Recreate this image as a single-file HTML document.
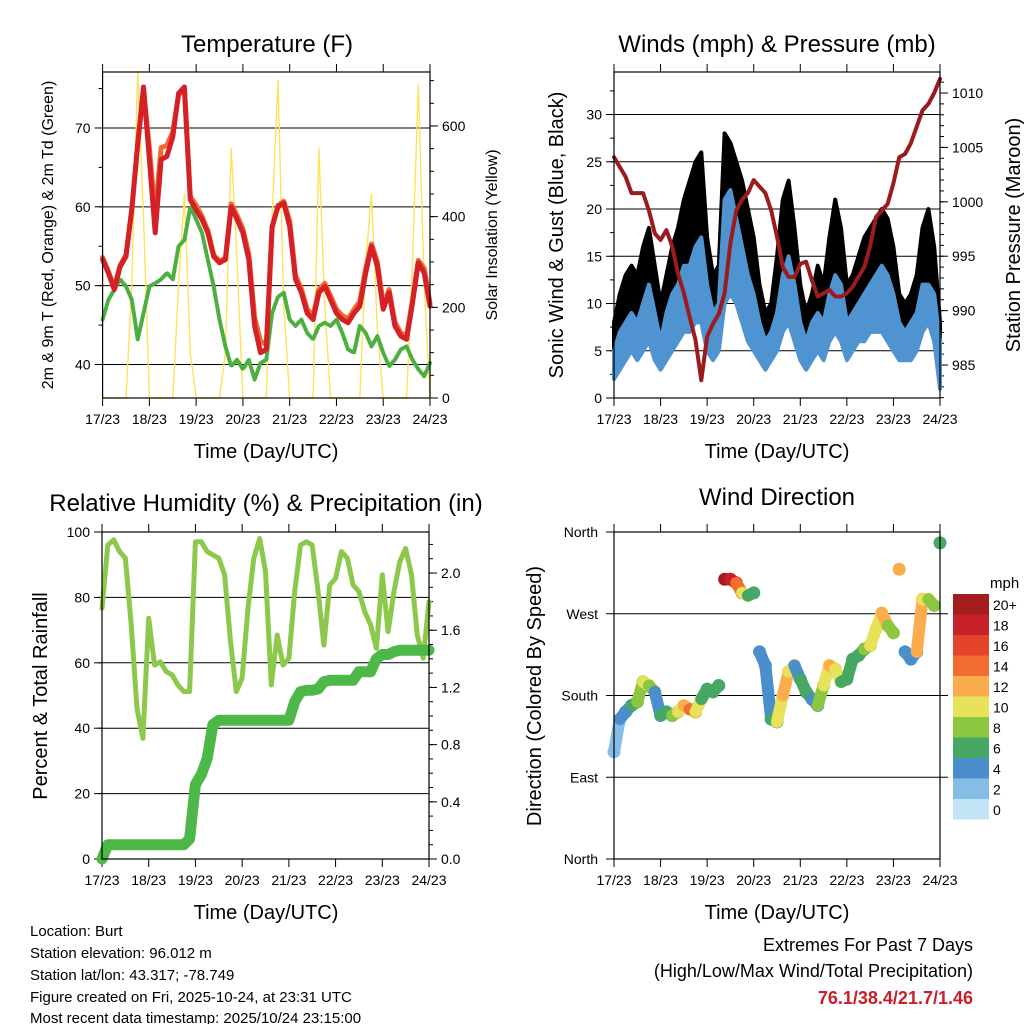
<!DOCTYPE html>
<html><head><meta charset="utf-8"><style>
body{margin:0;background:#fff;}
svg{display:block;font-family:"Liberation Sans",Arial,sans-serif;}
</style></head><body>
<svg id="chart" width="1024" height="1024" viewBox="0 0 1024 1024" xmlns="http://www.w3.org/2000/svg">
<rect width="1024" height="1024" fill="#fff"/>
<text x="267" y="52" font-size="24" text-anchor="middle">Temperature (F)</text>
<text x="777" y="52" font-size="24" text-anchor="middle">Winds (mph) &amp; Pressure (mb)</text>
<text x="266" y="511" font-size="24" text-anchor="middle">Relative Humidity (%) &amp; Precipitation (in)</text>
<text x="777" y="505" font-size="24" text-anchor="middle">Wind Direction</text>
<text x="266" y="458" font-size="20" text-anchor="middle">Time (Day/UTC)</text>
<text x="777" y="458" font-size="20" text-anchor="middle">Time (Day/UTC)</text>
<text x="266" y="919" font-size="20" text-anchor="middle">Time (Day/UTC)</text>
<text x="777" y="919" font-size="20" text-anchor="middle">Time (Day/UTC)</text>
<text transform="translate(53,235) rotate(-90)" font-size="16" text-anchor="middle">2m &amp; 9m T (Red, Orange) &amp; 2m Td (Green)</text>
<text transform="translate(497,235) rotate(-90)" font-size="16" text-anchor="middle">Solar Insolation (Yellow)</text>
<text transform="translate(563,235) rotate(-90)" font-size="20" text-anchor="middle">Sonic Wind &amp; Gust (Blue, Black)</text>
<text transform="translate(1020,235) rotate(-90)" font-size="20" text-anchor="middle">Station Pressure (Maroon)</text>
<text transform="translate(47,696) rotate(-90)" font-size="20" text-anchor="middle">Percent &amp; Total Rainfall</text>
<text transform="translate(541,696) rotate(-90)" font-size="20" text-anchor="middle">Direction (Colored By Speed)</text>
<g font-size="15">
<text x="30" y="936">Location: Burt</text>
<text x="30" y="958">Station elevation: 96.012 m</text>
<text x="30" y="980">Station lat/lon: 43.317; -78.749</text>
<text x="30" y="1002">Figure created on Fri, 2025-10-24, at 23:31 UTC</text>
<text x="30" y="1023">Most recent data timestamp: 2025/10/24 23:15:00</text>
</g>
<g font-size="18" text-anchor="end">
<text x="973" y="951">Extremes For Past 7 Days</text>
<text x="973" y="977">(High/Low/Max Wind/Total Precipitation)</text>
<text x="973" y="1004" fill="#c8202a" font-weight="bold">76.1/38.4/21.7/1.46</text>
</g>
<text x="990" y="588" font-size="15">mph</text>
</svg>
<script>
const hours=[0,3,6,9,12,15,18,21,24,27,30,33,36,39,42,45,48,51,54,57,60,63,66,69,72,75,78,81,84,87,90,93,96,99,102,105,108,111,114,117,120,123,126,129,132,135,138,141,144,147,150,153,156,159,162,165,168];
const dayLabels=["17/23","18/23","19/23","20/23","21/23","22/23","23/23","24/23"];
const temp2m=[53.3,51.6,49.5,52.4,53.7,59.6,68,75.2,66,56.7,66,66.4,68.9,74.4,75.2,60.9,59.6,58.4,56.7,53.7,52.9,53.3,60,58.4,56.7,53.3,44.9,41.5,41.9,57.5,60,60.5,57.5,50.8,49.1,46.5,45.7,49.1,49.9,48.2,46.5,45.7,45.3,46.5,47.4,51.6,55,52.4,47,49.1,44.9,43.6,43.2,47.8,52.9,51.6,47.4];
const temp9m=[53.6,51.8,49.8,52.6,53.9,59.8,67.8,74.8,67.5,59,67.5,67.8,69.5,74.2,75,61.3,60.2,58.8,57,53.9,53.1,53.5,60.4,58.9,57.2,54,46,43,42.5,57.3,60.2,60.7,58.2,51.3,49.6,47,46.2,49.5,50.3,48.7,47,46.2,45.8,47,48,52.2,55.3,53,47.6,49.5,45.4,44,43.6,48.2,53.2,52.2,47.8];
const dewpoint=[45.7,48.2,49.5,50.8,49.9,48.2,43.2,46.5,49.9,50.3,50.8,51.6,50.8,55,55.8,60,58.4,56.7,53.3,49.9,45.7,42.3,39.8,40.6,39.4,40.6,38.1,40.2,40.6,46.5,48.6,49.1,45.7,44.9,45.7,44,43.2,44.9,45.3,44.9,45.7,44,41.9,41.5,44.9,44,42.3,43.6,41.5,39.8,40.6,41.9,42.3,40.6,39.4,38.5,40.2];
const solar=[0,0,0,0,0,250,720,400,0,0,0,0,0,250,450,100,0,0,0,0,0,100,550,300,0,0,0,0,0,400,700,200,0,0,0,0,0,550,200,0,0,0,0,0,0,300,450,150,0,0,0,0,0,300,690,250,0];
const windLo=[2,3,4,5,4,5,6,4,3,4,5,6,7,7,8,8,5,4,5,10,11,10,8,6,5,4,3,4,5,7,8,6,4,3,4,5,4,6,7,6,4,5,6,6,7,7,7,6,5,4,4,4,5,7,8,6,1];
const windHi=[5,7,8,9,8,10,12,9,6,9,11,12,14,14,16,17,12,9,10,21,22,19,16,13,11,8,6,7,9,13,15,12,8,6,8,9,8,11,13,12,8,9,10,11,12,13,14,13,11,8,7,8,9,12,12,11,6];
const gustLo=[3,5,7,8,7,9,10,8,5,8,10,11,12,13,14,13,8,7,8,16,18,17,14,11,9,6,5,5,8,13,14,11,6,4,6,8,7,10,12,10,6,7,9,10,11,12,11,10,8,6,5,6,8,11,13,10,2];
const gustHi=[8,11,13,14,13,16,18,14,10,13,16,18,21,23,25,26,17,13,14,28,27,25,23,20,17,12,9,10,15,21,23,18,12,9,11,14,12,17,21,18,12,13,15,17,18,19,20,19,16,11,10,11,13,18,20,16,8];
const pressure=[1004.1,1003.2,1002.3,1000.8,1000.8,1000.8,999.2,997.1,996.5,997.4,995.9,993.4,991.6,989.4,987.3,983.6,987.6,988.8,989.7,991.6,996.2,999.2,1000.2,1000.8,1002,1001.4,1000.8,999.2,996.8,994,993.1,993.1,994.3,994.5,992.8,991.3,991.6,991.9,991.3,991.3,991.6,992.2,993.1,994,995.9,998.6,999.2,999.8,1001.7,1004.1,1004.4,1005.4,1006.9,1008.4,1009,1010,1011.3];
const humidity=[76.7,96,97.6,94,92,71.6,46,36.9,73.6,59.3,60.3,57.3,56.3,53.2,51.2,51.2,97,97,94,93,92,86.9,66.5,51.2,55.3,76.7,92,98,87.9,53.2,68.5,59.3,61.4,81.8,96,97,96,81.8,65.4,83.8,85.8,94,92,83.8,81.8,75.6,71.6,64.4,86.9,69.5,81.8,90.9,95,86.9,68.5,61.4,78.7];
const rainfall=[0,0.1,0.1,0.1,0.1,0.1,0.1,0.1,0.1,0.1,0.1,0.1,0.1,0.1,0.1,0.14,0.52,0.59,0.7,0.94,0.97,0.97,0.97,0.97,0.97,0.97,0.97,0.97,0.97,0.97,0.97,0.97,0.97,1.1,1.17,1.18,1.18,1.19,1.24,1.25,1.25,1.25,1.25,1.25,1.31,1.31,1.31,1.4,1.43,1.43,1.45,1.46,1.46,1.46,1.46,1.46,1.46];
const direction=[118,154,162,169,173,195,191,184,158,162,158,162,169,165,162,176,187,184,191,308,308,304,293,290,293,228,213,154,151,180,206,213,198,184,176,169,191,213,209,195,198,220,224,231,235,253,271,257,249,319,228,220,228,286,286,279,348];
const dirSpeed=[2,3,4,5,6,9,10,8,5,6,7,8,10,13,14,11,7,7,6,19,21,18,14,10,7,4,4,4,6,11,13,11,5,6,7,5,9,11,13,10,7,6,7,6,8,11,10,12,8,13,4,4,5,12,11,9,6];
const speedBins=["0","2","4","6","8","10","12","14","16","18","20+"];
const binColors=["#c2e4f6","#86bde6","#4a8fcb","#47a764","#8dc641","#e8e25a","#fbad4e","#f26b30","#e5432b","#c8202a","#a51c1e"];

const NS="http://www.w3.org/2000/svg";
const svg=document.getElementById('chart');
function mk(tag,attrs,parent){const e=document.createElementNS(NS,tag);for(const k in attrs)e.setAttribute(k,attrs[k]);(parent||svg).appendChild(e);return e;}
function X(P,h){return P.x0+h/168*(P.x1-P.x0);}
function Y(P,v,lo,hi){return P.y1-(v-lo)/(hi-lo)*(P.y1-P.y0);}
function pts(P,vals,lo,hi){return vals.map((v,i)=>X(P,hours[i]).toFixed(1)+","+Y(P,v,lo,hi).toFixed(1)).join(" ");}

const PT={x0:102.6,x1:430,y0:72,y1:398};
const PW={x0:614,x1:940,y0:72,y1:398};
const PR={x0:102,x1:429,y0:532,y1:859};
const PD={x0:614,x1:940,y0:532,y1:859};

function frame(P,name){
  const g=mk('g',{});
  
  
  for(let d=0;d<8;d++){
    const x=X(P,d*24);
    const t1=mk('line',{x1:x,x2:x,y1:P.y1,y2:P.y1+8,stroke:'#000','stroke-width':1},g);
    
    
    const t2=mk('line',{x1:x,x2:x,y1:P.y0,y2:P.y0-8,stroke:'#000','stroke-width':1},g);
    
    
    const lb=mk('text',{x:x,y:P.y1+26,'font-size':14,'text-anchor':'middle'},g);
    
    
    lb.textContent=dayLabels[d];
  }
  return g;
}
function yAxis(P,side,lo,hi,major,minor,labels,grid,name,fmt){
  const g=mk('g',{});
  
  
  const x=side==='l'?P.x0:P.x1, dir=side==='l'?-1:1;
  for(let v=Math.ceil(lo/minor)*minor;v<=hi+1e-9;v+=minor){
    const y=Y(P,v,lo,hi);
    const t=mk('line',{x1:x,x2:x+dir*4,y1:y,y2:y,stroke:'#000','stroke-width':1},g);
    
    
  }
  labels.forEach(v=>{
    const y=Y(P,v,lo,hi);
    if(grid){
      const gl=mk('line',{x1:P.x0,x2:P.x1,y1:y,y2:y,stroke:'#000','stroke-width':1},g);
      
      
    }
    const t=mk('line',{x1:x,x2:x+dir*8,y1:y,y2:y,stroke:'#000','stroke-width':1},g);
    
    
    const lb=mk('text',{x:x+dir*12,y:y+5,'font-size':14,'text-anchor':side==='l'?'end':'start'},g);
    
    
    lb.textContent=fmt?fmt(v):v;
  });
}
function box(P,name){
  const r=mk('rect',{x:P.x0,y:P.y0,width:P.x1-P.x0,height:P.y1-P.y0,fill:'none',stroke:'#000','stroke-width':1.2});
  
  
}
function line(P,vals,lo,hi,attrs,name){
  const a=Object.assign({points:pts(P,vals,lo,hi),fill:'none','stroke-linejoin':'round','stroke-linecap':'round'},attrs);
  const l=mk('polyline',a);
  
  
}
function band(P,loA,hiA,lo,hi,color,name){
  const up=hiA.map((v,i)=>X(P,hours[i]).toFixed(1)+","+Y(P,v,lo,hi).toFixed(1));
  const dn=loA.map((v,i)=>X(P,hours[i]).toFixed(1)+","+Y(P,v,lo,hi).toFixed(1)).reverse();
  const p=mk('polygon',{points:up.concat(dn).join(" "),fill:color,stroke:color,'stroke-width':4,'stroke-linejoin':'round'});
  
  
}

/* Temperature */
const TLO=35.75,THI=77.1,SLO=0,SHI=719;
yAxis(PT,'l',TLO,THI,10,5,[40,50,60,70],true,'temp-left-axis');
yAxis(PT,'r',SLO,SHI,200,50,[0,200,400,600],false,'solar-right-axis');
frame(PT,'temp');
line(PT,solar,SLO,SHI,{stroke:'#fde25a','stroke-width':1.4},'solar-line');
line(PT,dewpoint,TLO,THI,{stroke:'#4caf3f','stroke-width':4,'stroke-dasharray':'3 2'},'dewpoint-line');
line(PT,temp9m,TLO,THI,{stroke:'#f26b2f','stroke-width':5},'temp-9m-line');
line(PT,temp2m,TLO,THI,{stroke:'#d42027','stroke-width':5},'temp-2m-line');
box(PT,'temp');

/* Winds */
const WLO=0,WHI=34.5,PLO=981.97,PHI=1011.93;
yAxis(PW,'l',WLO,WHI,5,2.5,[0,5,10,15,20,25,30],true,'wind-left-axis');
yAxis(PW,'r',PLO,PHI,5,1,[985,990,995,1000,1005,1010],false,'pressure-right-axis');
frame(PW,'winds');
band(PW,gustLo,gustHi,WLO,WHI,'#000','gust-band');
band(PW,windLo,windHi,WLO,WHI,'#4f94d0','wind-band');
line(PW,pressure,PLO,PHI,{stroke:'#9b1b1e','stroke-width':4},'pressure-line');
box(PW,'winds');

/* Humidity */
const RLO=0,RHI=100,PRLO=0,PRHI=2.287;
yAxis(PR,'l',RLO,RHI,20,20,[0,20,40,60,80,100],true,'humidity-left-axis');
yAxis(PR,'r',PRLO,PRHI,0.4,0.1,[0,0.4,0.8,1.2,1.6,2.0],false,'rain-right-axis',v=>v.toFixed(1));
frame(PR,'humidity');
line(PR,humidity,RLO,RHI,{stroke:'#8cc84b','stroke-width':5},'humidity-line');
line(PR,rainfall,PRLO,PRHI,{stroke:'#4db848','stroke-width':11},'rainfall-line');
box(PR,'humidity');

/* Wind direction */
const DLO=0,DHI=360;
const dirNames=["North","East","South","West","North"];
const gd=mk('g',{});


[0,90,180,270,360].forEach((v,i)=>{
  const y=Y(PD,v,DLO,DHI);
  if(i>0&&i<4){const gl=mk('line',{x1:PD.x0,x2:PD.x1+8,y1:y,y2:y,stroke:'#000','stroke-width':1},gd);
    
    }
  const t=mk('line',{x1:PD.x0,x2:PD.x0-8,y1:y,y2:y,stroke:'#000'},gd);
  
  
  const lb=mk('text',{x:PD.x0-16,y:y+5,'font-size':14,'text-anchor':'end'},gd);
  
  
  lb.textContent=dirNames[i];
});
frame(PD,'direction');
function binOf(v){return Math.min(10,Math.floor(v/2));}
for(let i=0;i<hours.length;i++){
  const c=binColors[binOf(dirSpeed[i])];
  if(i>0&&Math.abs(direction[i]-direction[i-1])<60){
    const s=mk('line',{x1:X(PD,hours[i-1]),y1:Y(PD,direction[i-1],DLO,DHI),x2:X(PD,hours[i]),y2:Y(PD,direction[i],DLO,DHI),stroke:c,'stroke-width':12,'stroke-linecap':'round'});
    
    
  }
  const d=mk('circle',{cx:X(PD,hours[i]),cy:Y(PD,direction[i],DLO,DHI),r:6.5,fill:c});
  
  
}
box(PD,'direction');

/* Colorbar */
const cb=mk('g',{});


for(let i=0;i<speedBins.length;i++){
  const y=594+(10-i)*20.5;
  const r=mk('rect',{x:953,y:y,width:36,height:20.5,fill:binColors[i]},cb);
  
  
  const t=mk('text',{x:993,y:y+16,'font-size':14},cb);
  
  
  t.textContent=speedBins[i];
}
</script>
</body></html>
